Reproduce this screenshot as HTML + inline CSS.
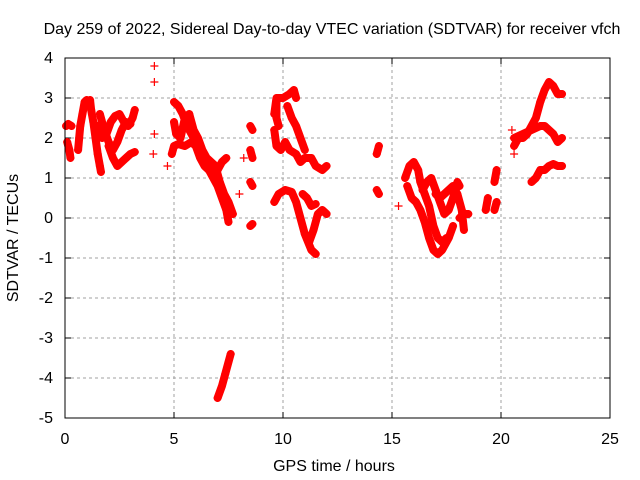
<!DOCTYPE html>
<html><head><meta charset="utf-8"><style>
body{margin:0;background:#fff}
svg{display:block;font-family:"Liberation Sans",sans-serif}
</style></head><body>
<svg id="chart" width="640" height="480" viewBox="0 0 640 480">
<rect width="640" height="480" fill="#fff"/>
<text x="332" y="34" font-size="16" text-anchor="middle">Day 259 of 2022, Sidereal Day-to-day VTEC variation (SDTVAR) for receiver vfch</text>
<text x="334" y="471" font-size="16" text-anchor="middle">GPS time / hours</text>
<text transform="translate(18,238) rotate(-90)" font-size="16" text-anchor="middle">SDTVAR / TECUs</text>
<g id="grid"></g><g id="ticks"></g><g id="marks"></g>
<rect x="65" y="58" width="545" height="360" fill="none" stroke="#000" stroke-width="1"/>
</svg>
<script>
const xTicks=[0,5,10,15,20,25];
const yTicks=[-5,-4,-3,-2,-1,0,1,2,3,4];
const tracks=[
[[0.05,2.3],[0.15,2.35],[0.3,2.3]],
[[0.1,1.9],[0.2,1.7],[0.25,1.5]],
[[0.6,1.7],[0.65,2.0],[0.7,2.3],[0.8,2.6],[0.9,2.9],[1.0,2.95]],
[[1.15,2.95],[1.2,2.7],[1.3,2.4],[1.4,2.0],[1.5,1.6],[1.6,1.3],[1.65,1.15]],
[[1.5,2.3],[1.7,2.0],[1.9,2.1],[2.1,2.4],[2.3,2.55],[2.5,2.6],[2.7,2.4],[2.9,2.3],[3.1,2.5],[3.2,2.7]],
[[1.6,2.6],[1.8,2.2],[2.0,1.9],[2.2,1.7],[2.4,1.9],[2.6,2.2],[2.8,2.4],[3.0,2.35]],
[[2.0,1.8],[2.2,1.5],[2.4,1.3],[2.6,1.4],[2.8,1.5],[3.0,1.6],[3.2,1.65]],
[[4.1,3.8]],[[4.1,3.4]],[[4.1,2.1]],[[4.05,1.6]],[[4.7,1.3]],
[[5.0,2.9],[5.2,2.8],[5.4,2.6],[5.6,2.3],[5.8,2.1],[6.0,1.9],[6.2,1.7],[6.4,1.5],[6.6,1.2],[6.8,1.0],[7.0,0.8],[7.2,0.5],[7.4,0.2],[7.5,-0.1]],
[[4.9,1.6],[5.0,1.8],[5.2,1.85],[5.5,1.8],[5.8,1.9],[6.0,1.8],[6.2,1.5],[6.4,1.3],[6.6,1.2],[6.8,1.1],[7.0,1.2],[7.2,1.4],[7.4,1.5]],
[[5.0,2.4],[5.1,2.1],[5.3,2.0],[5.5,2.5],[5.7,2.6],[5.9,2.2],[6.1,2.0],[6.3,1.7],[6.5,1.5],[6.7,1.4],[6.9,1.3],[7.1,0.9],[7.3,0.6],[7.5,0.4],[7.7,0.1]],
[[7.0,-4.5],[7.2,-4.2],[7.35,-3.9],[7.5,-3.6],[7.6,-3.4]],
[[8.0,0.6]],[[8.2,1.5]],
[[8.5,2.3],[8.6,2.2]],[[8.5,1.7],[8.6,1.5]],[[8.5,0.9],[8.6,0.8]],[[8.5,-0.2],[8.6,-0.15]],
[[9.6,2.6],[9.7,3.0],[10.0,3.0],[10.3,3.1],[10.5,3.2],[10.6,3.0]],
[[9.6,2.2],[9.7,1.8],[9.9,1.7],[10.1,1.9],[10.3,1.7],[10.6,1.6],[10.8,1.4],[11.0,1.5],[11.3,1.5],[11.5,1.3],[11.8,1.2],[12.0,1.3]],
[[9.7,2.9],[9.7,2.5],[9.8,2.3]],
[[10.2,2.8],[10.4,2.5],[10.6,2.3],[10.8,2.0],[11.0,1.7]],
[[9.6,0.4],[9.8,0.6],[10.1,0.7],[10.4,0.65],[10.6,0.4],[10.8,0.0],[11.0,-0.4],[11.3,-0.8],[11.5,-0.9]],
[[11.2,-0.6],[11.4,-0.3],[11.6,0.1],[11.8,0.2],[12.0,0.1]],
[[10.9,0.6],[11.1,0.5],[11.3,0.3],[11.5,0.35]],
[[14.3,1.6],[14.4,1.8]],[[14.3,0.7],[14.4,0.6]],
[[15.3,0.3]],
[[15.6,1.0],[15.8,1.3],[16.0,1.4],[16.2,1.2],[16.3,0.9],[16.5,0.6],[16.7,0.3],[16.9,-0.2],[17.1,-0.5],[17.3,-0.6],[17.5,-0.5]],
[[15.7,0.8],[15.9,0.5],[16.1,0.4],[16.3,0.2],[16.5,-0.1],[16.7,-0.5],[16.9,-0.8],[17.1,-0.9],[17.3,-0.8],[17.6,-0.5],[17.8,-0.2]],
[[16.4,0.7],[16.6,0.9],[16.8,1.0],[17.0,0.7],[17.2,0.4],[17.4,0.1],[17.6,0.2],[17.8,0.5],[18.0,0.9],[18.1,0.8]],
[[17.0,0.6],[17.2,0.5],[17.4,0.6],[17.6,0.7],[17.8,0.8],[18.0,0.6],[18.2,0.2],[18.3,-0.3]],
[[18.1,0.0],[18.3,0.1],[18.5,0.1]],
[[19.3,0.2],[19.4,0.5]],[[19.7,0.2],[19.8,0.4]],[[19.7,0.9],[19.8,1.2]],
[[20.6,1.8],[20.8,2.0],[21.0,2.0],[21.2,2.1],[21.4,2.3],[21.6,2.5],[21.8,2.9],[22.0,3.2],[22.2,3.4],[22.4,3.3],[22.6,3.1],[22.8,3.1]],
[[20.6,2.0],[21.0,2.1],[21.4,2.2],[21.8,2.3],[22.0,2.3],[22.2,2.2],[22.4,2.1],[22.6,1.9],[22.8,2.0]],
[[21.4,0.9],[21.6,1.0],[21.8,1.2],[22.0,1.2],[22.2,1.3],[22.4,1.35],[22.6,1.3],[22.8,1.3]],
[[20.5,2.2]],[[20.6,1.6]]
];
const L=65,R=610,T=58,B=418;
const xs=v=>L+(v-0)/25*(R-L);
const ys=v=>B-(v+5)/9*(B-T);
const NS='http://www.w3.org/2000/svg';
const grid=document.getElementById('grid'),ticks=document.getElementById('ticks'),marks=document.getElementById('marks');
function mk(tag,attrs,parent){const e=document.createElementNS(NS,tag);for(const k in attrs)e.setAttribute(k,attrs[k]);parent.appendChild(e);return e;}
xTicks.forEach(t=>{const x=xs(t);
 if(t>0&&t<25){const g=mk('line',{x1:x,x2:x,y1:T,y2:B,stroke:'#a0a0a0','stroke-dasharray':'3,3'},grid);
 
 }
 const a=mk('line',{x1:x,x2:x,y1:B,y2:B-6,stroke:'#000'},ticks);
 
 
 const b=mk('line',{x1:x,x2:x,y1:T,y2:T+6,stroke:'#000'},ticks);
 
 
 const l=mk('text',{x:x,y:B+26,'font-size':16,'text-anchor':'middle'},ticks);l.textContent=t;
 
 
});
yTicks.forEach(t=>{const y=ys(t);
 if(t>-5&&t<4){const g=mk('line',{x1:L,x2:R,y1:y,y2:y,stroke:'#a0a0a0','stroke-dasharray':'3,3'},grid);
 
 }
 const a=mk('line',{x1:L,x2:L+6,y1:y,y2:y,stroke:'#000'},ticks);
 
 
 const b=mk('line',{x1:R,x2:R-6,y1:y,y2:y,stroke:'#000'},ticks);
 
 
 const l=mk('text',{x:L-12,y:y+5,'font-size':16,'text-anchor':'end'},ticks);l.textContent=t;
 
 
});
tracks.forEach(tr=>{
 if(tr.length>1){const p=mk('polyline',{points:tr.map(d=>xs(d[0])+','+ys(d[1])).join(' '),fill:'none',stroke:'#f00','stroke-width':8,'stroke-linejoin':'round','stroke-linecap':'round'},marks);
 
 }
 tr.forEach(d=>{const x=xs(d[0]),y=ys(d[1]);
  const m=mk('path',{d:`M${x-4},${y}H${x+4}M${x},${y-4}V${y+4}`,stroke:'#f00','stroke-width':1.2},marks);
  
  
 });
});
</script>
</body></html>
